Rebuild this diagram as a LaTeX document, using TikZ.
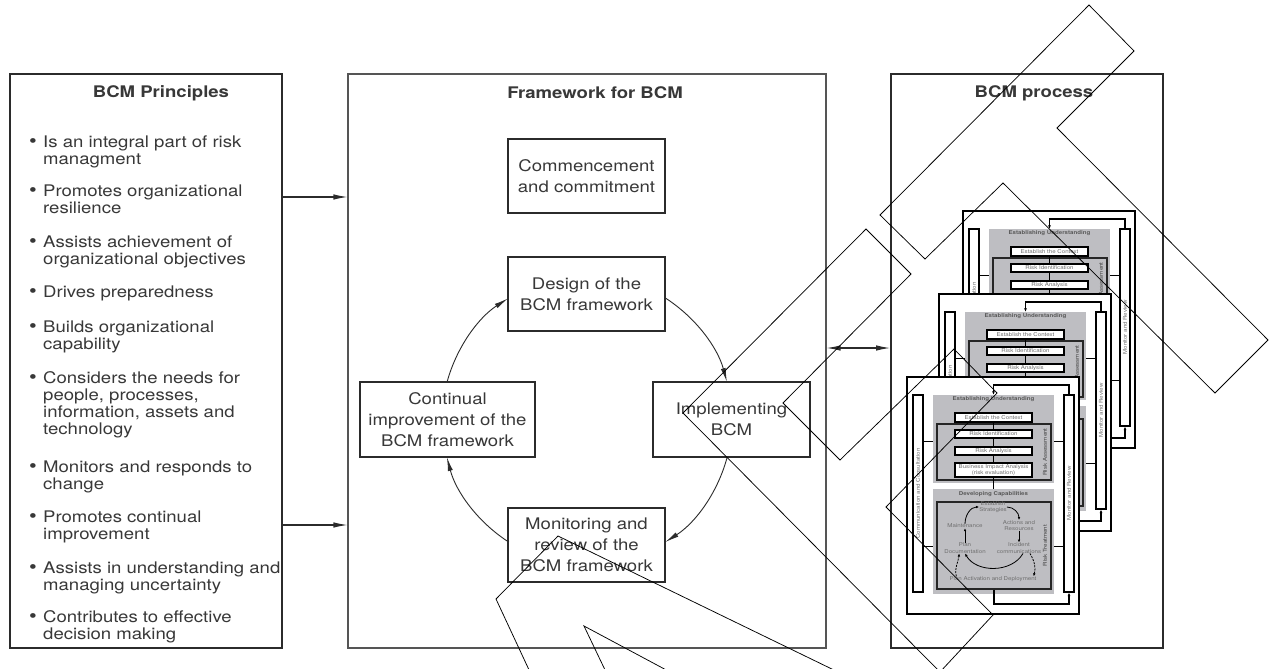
\documentclass[tikz,border=0pt]{standalone}
\usepackage{fontspec}
\setmainfont{TeX Gyre Heros}[FakeStretch=1.16]
\usetikzlibrary{arrows.meta}

\definecolor{ink}{HTML}{383838}
\definecolor{rule}{HTML}{2B2B2B}
\definecolor{softrule}{HTML}{555555}
\definecolor{sheetgray}{HTML}{BEBEC2}
\definecolor{finetext}{HTML}{6E6E6E}

\newcommand{\tinytext}{\fontsize{5.3}{6.6}\selectfont}
\newcommand{\itemlines}[1]{\begin{tabular}[t]{@{}l@{}}#1\end{tabular}}

\tikzset{
  wh/.style 2 args={minimum width=#1pt, minimum height=#2pt},
  panelbox/.style={draw=rule, line width=1.8pt, fill=white, inner sep=0pt},
  midpanel/.style={draw=softrule, line width=1.1pt, fill=white, inner sep=0pt},
  paneltitle/.style={font=\fontsize{16}{19}\selectfont\bfseries, text=ink, inner sep=0pt},
  bullettext/.style={font=\fontsize{16}{17}\selectfont, text=ink, inner sep=0pt, anchor=base west},
  bulletdot/.style={font=\fontsize{19}{17}\selectfont, text=ink, inner sep=0pt, anchor=base},
  stagebox/.style={draw=rule, line width=1.2pt, fill=white, align=center, text=ink,
    font=\fontsize{16}{21}\selectfont, inner sep=0pt},
  flow/.style={draw=rule, line width=1.1pt, -{Latex[length=14pt,width=5.5pt]}},
  twoway/.style={draw=rule, line width=1.1pt, {Latex[length=14pt,width=5.5pt]}-{Latex[length=14pt,width=5.5pt]}},
  cycleflow/.style={draw=rule, line width=0.9pt, -{Latex[length=14pt,width=5pt]}},
  sheet/.style={draw=black, line width=1.3pt, fill=white, inner sep=0pt},
  sidebar/.style={draw=black, line width=1.2pt, fill=white, inner sep=0pt},
  zone/.style={fill=sheetgray, inner sep=0pt},
  group/.style={draw=black!85, line width=1.3pt, fill=sheetgray, inner sep=0pt},
  stepcard/.style={draw=black, line width=1.1pt, fill=white, inner sep=0pt, align=center, text=finetext, font=\tinytext},
  finelabel/.style={inner sep=0pt, align=center, text=finetext, font=\tinytext},
  finetitle/.style={inner sep=0pt, text=black!65, font=\tinytext\bfseries},
  tie/.style={draw=black, line width=1pt},
  loopback/.style={draw=black, line width=1.2pt, -{Latex[length=3.5pt,width=3pt]}},
  fine/.style={draw=black, line width=0.8pt, -{Latex[length=3pt,width=2.6pt]}},
  finedash/.style={fine, dash pattern=on 2pt off 1.2pt},
  stray/.style={draw=black, line width=0.75pt, line join=miter},
}

% One sheet of the stacked process chart.
% #1 = name prefix, #2 = top-left corner, #3 = 1 when the lower half is on show
\newcommand{\processsheet}[3]{%
\begin{scope}[shift={#2}]
  \node[sheet, wh={172}{237}] (#1-frame) at (86,118.5) {};
  \node[zone, wh={121}{88}] (#1-eu) at (86.5,62) {};
  \node[zone, wh={121}{105}] (#1-dc) at (86.5,164.5) {};
  \node[sidebar, wh={10}{197}] (#1-cc) at (11,116.5) {};
  \node[sidebar, wh={10}{197}] (#1-mr) at (162,116.5) {};
  \node[finelabel, rotate=90] (#1-cct) at (#1-cc) {Communication and Consultation};
  \node[finelabel, rotate=90] (#1-mrt) at (#1-mr) {Monitor and Review};
  \node[finetitle] (#1-eut) at (86.5,22.5) {Establishing Understanding};
  \node[group, wh={114}{56}] (#1-ra) at (87,75) {};
  \node[finelabel, rotate=90, text=black!75] (#1-rat) at (138,75) {Risk Assessment};
  \node[stepcard, wh={77}{9}] (#1-ctx) at (86.5,40.5) {Establish the Context};
  \node[stepcard, wh={77}{8}] (#1-ri) at (86.5,57) {Risk Identification};
  \node[stepcard, wh={77}{8}] (#1-ran) at (86.5,74) {Risk Analysis};
  \node[stepcard, wh={77}{14}] (#1-bia) at (86.5,93)
    {\ifnum#3=1 Business Impact Analysis\\(risk evaluation)\fi};
  \node[group, wh={114}{87}] (#1-rt) at (87,168.5) {};
  \ifnum#3=1
  \node[finetitle] (#1-dct) at (86.5,117.5) {Developing Capabilities};
  \node[finelabel, rotate=90, text=black!75] (#1-rtt) at (138,168.5) {Risk Treatment};
  \node[finelabel] (#1-es) at (86,130) {Establish\\Strategies};
  \node[finelabel] (#1-mt) at (58,149) {Maintenance};
  \node[finelabel] (#1-ac) at (112,148.5) {Actions and\\Resources};
  \node[finelabel] (#1-pd) at (58,171) {Plan\\Documentation};
  \node[finelabel] (#1-ic) at (112,171) {Incident\\communications};
  \node[finelabel] (#1-pa) at (86,202) {Plan Activation and Deployment};
  % treatment cycle
  \draw[fine] (#1-mt.north) to[out=90,in=180] (#1-es.west);
  \draw[fine] (#1-es.east) to[out=0,in=90] (#1-ac.north);
  \draw[fine] (#1-ac.south) -- (#1-ic.north);
  \draw[fine] (#1-pd.north) -- (#1-mt.south);
  \draw[fine] ([xshift=4pt]#1-ic.south) to[out=-120,in=-60] (#1-pd.south);
  \draw[finedash] ([xshift=11pt]#1-ic.south) to[out=-60,in=75] ([xshift=-3pt]#1-pa.north east);
  \draw[finedash] ([xshift=7pt]#1-pa.north west) to[out=105,in=-95] ([xshift=15pt]#1-pd.south west);
  \fi
  % links to the side bars
  \coordinate (#1-y1) at (0,64);
  \coordinate (#1-y2) at (0,169);
  \draw[tie] (#1-cc.east |- #1-y1) -- (#1-eu.west |- #1-y1);
  \draw[tie] (#1-eu.east |- #1-y1) -- (#1-mr.west |- #1-y1);
  \draw[tie] (#1-cc.east |- #1-y2) -- (#1-dc.west |- #1-y2);
  \draw[tie] (#1-dc.east |- #1-y2) -- (#1-mr.west |- #1-y2);
  % main chain
  \draw[tie] (#1-ctx.south) -- (#1-ri.north);
  \draw[tie] (#1-ri.south) -- (#1-ran.north);
  \draw[tie] (#1-ran.south) -- (#1-bia.north);
  \draw[tie] (#1-bia.south) -- (#1-dc.north);
  % feedback loops
  \coordinate (#1-ft) at (120,8);
  \coordinate (#1-fb) at (120,227);
  \draw[loopback] (#1-mr.north) |- (#1-ft) -| (#1-eu.north);
  \draw[loopback] (#1-rt.south) |- (#1-fb) -| (#1-mr.south);
\end{scope}}

\begin{document}
\begin{tikzpicture}[x=1pt, y=-1pt]
\useasboundingbox (0,0) rectangle (1274,669);

% ---- principles panel
\node[panelbox, wh={272}{574}] (principles) at (146,361) {};
\node[paneltitle] (ptitle) at (161,93) {BCM Principles};
\foreach \yy/\txt [count=\i] in {
  147/{Is an integral part of risk\\managment},
  196/{Promotes organizational\\resilience},
  247/{Assists achievement of\\organizational objectives},
  297/{Drives preparedness},
  332/{Builds organizational\\capability},
  383/{Considers the needs for\\people, processes,\\information, assets and\\technology},
  472/{Monitors and responds to\\change},
  522/{Promotes continual\\improvement},
  573/{Assists in understanding and\\managing uncertainty},
  622/{Contributes to effective\\decision making}}
{
  \node[bulletdot] (dot\i) at (33,\yy) {\textbullet};
  \node[bullettext] (item\i) at (43,\yy) {\itemlines{\txt}};
}

% ---- framework panel
\node[midpanel, wh={478}{574}] (framework) at (587,361) {};
\node[paneltitle] (ftitle) at (595,93) {Framework for BCM};
\node[stagebox, wh={157}{74}] (commence) at (586.5,176) {Commencement\\and commitment};
\node[stagebox, wh={157}{74}] (design) at (586.5,294) {Design of the\\BCM framework};
\node[stagebox, wh={175}{75}] (improve) at (447.5,419.5) {Continual\\improvement of the\\BCM framework};
\node[stagebox, wh={157}{75}] (implement) at (731.5,419.5) {Implementing\\BCM};
\node[stagebox, wh={157}{74}] (monitor) at (586.5,545) {Monitoring and\\review of the\\BCM framework};

\coordinate (hub) at (587,420);
\draw[cycleflow] ([shift={(57.4:145pt)}]hub) arc[start angle=57.4, end angle=15.2, radius=145pt];
\draw[cycleflow] ([shift={(-14.8:145pt)}]hub) arc[start angle=-14.8, end angle=-57.4, radius=145pt];
\draw[cycleflow] ([shift={(-122.6:145pt)}]hub) arc[start angle=-122.6, end angle=-165.2, radius=145pt];
\draw[cycleflow] ([shift={(164.8:145pt)}]hub) arc[start angle=164.8, end angle=123, radius=145pt];

% ---- process panel
\node[panelbox, wh={272}{574}] (process) at (1027,361) {};
\node[paneltitle] (prtitle) at (1034,93) {BCM process};
\processsheet{back}{(963,211)}{0}
\processsheet{mid}{(939,294)}{0}
\processsheet{front}{(907,377)}{1}

% ---- links between panels
\coordinate (ya) at (0,197);
\coordinate (yb) at (0,525);
\coordinate (yc) at (0,348);
\draw[flow] (principles.east |- ya) -- (framework.west |- ya);
\draw[flow] (principles.east |- yb) -- (framework.west |- yb);
\draw[twoway] (framework.east |- yc) -- (process.west |- yc);

% ---- loose outline strokes across the sheet
\draw[stray] (880,215) -- (1089,5) -- (1134,51) -- (1057,128) -- (1268,340) -- (1215,393)
  -- (1003,183) -- (925,259) -- cycle;
\draw[stray] (940,672) -- (683,413) -- (866,229) -- (911,274) -- (783,403) -- (840,460)
  -- (954,349) -- (997,393) -- (886,507) -- (993,615) -- cycle;
\draw[stray] (530,672) -- (496,599) -- (558,536) -- (838,672);
\draw[stray] (606,672) -- (584,626) -- (670,672);
\end{tikzpicture}
\end{document}
